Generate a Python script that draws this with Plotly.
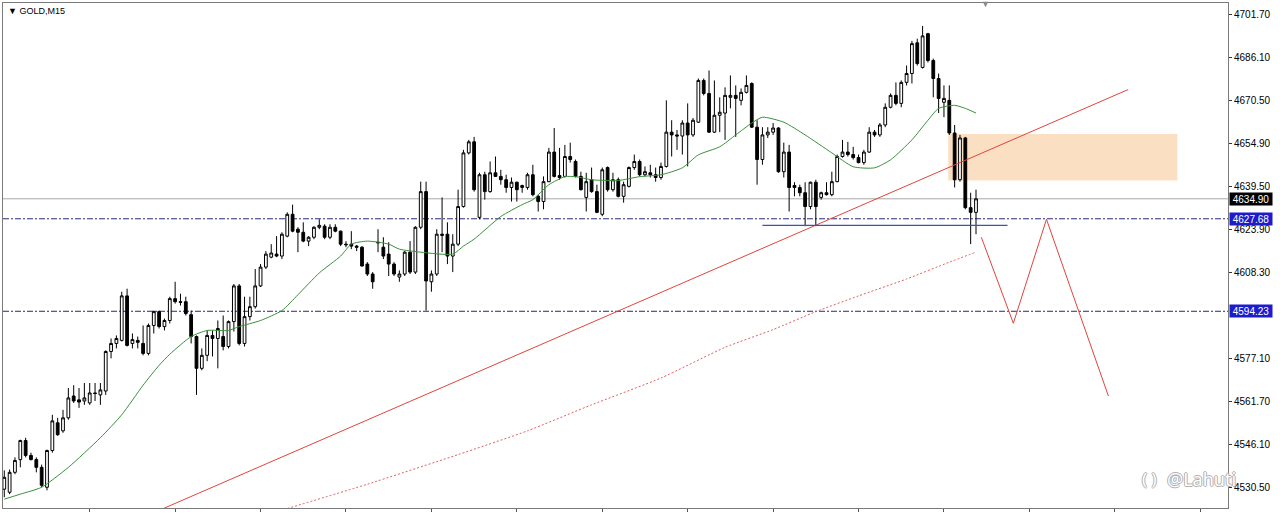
import plotly.graph_objects as go

# ---------------- data (GOLD, M15) ----------------
bar_index = list(range(183))

opens = [4529.9, 4528.8, 4536.0, 4540.6, 4547.5, 4542.1, 4540.6, 4537.8, 4530.6, 4543.9,
         4553.9, 4551.0, 4555.7, 4563.6, 4562.2, 4561.8, 4561.1, 4564.7, 4564.0, 4565.4,
         4579.7, 4582.6, 4583.7, 4599.8, 4582.6, 4583.7, 4582.6, 4579.0, 4589.1, 4594.1,
         4588.7, 4590.9, 4598.8, 4597.7, 4597.7, 4593.0, 4585.1, 4573.6, 4578.3, 4585.5,
         4584.4, 4585.1, 4581.5, 4590.5, 4603.4, 4582.6, 4592.3, 4595.9, 4603.4, 4610.2,
         4613.8, 4614.9, 4614.2, 4621.4, 4629.3, 4623.9, 4622.8, 4619.6, 4621.0, 4624.6,
         4625.0, 4621.0, 4624.6, 4623.2, 4618.5, 4618.5, 4617.8, 4617.4, 4611.3, 4607.7,
         4619.2, 4617.4, 4614.9, 4611.3, 4606.6, 4607.7, 4615.6, 4608.4, 4624.6, 4637.5,
         4604.9, 4607.7, 4622.1, 4622.1, 4614.2, 4618.5, 4632.1, 4651.5, 4655.5, 4628.2,
         4643.6, 4637.5, 4644.3, 4643.0, 4641.8, 4639.0, 4640.9, 4639.0, 4639.0, 4643.6,
         4635.8, 4633.9, 4641.1, 4651.8, 4643.3, 4643.0, 4650.2, 4648.4, 4643.0, 4635.4,
         4641.8, 4637.5, 4629.3, 4646.2, 4638.2, 4641.8, 4635.8, 4639.4, 4646.2, 4648.4,
         4643.6, 4644.3, 4643.6, 4642.6, 4646.6, 4659.0, 4658.0, 4657.6, 4662.3, 4658.0,
         4662.6, 4677.7, 4673.0, 4659.0, 4665.1, 4665.9, 4671.6, 4672.3, 4670.5, 4673.4,
         4676.6, 4660.8, 4649.1, 4658.0, 4659.0, 4660.5, 4644.7, 4651.8, 4639.7, 4639.0,
         4637.1, 4632.1, 4640.9, 4635.4, 4637.1, 4636.4, 4641.1, 4650.2, 4651.8, 4650.9,
         4649.8, 4648.0, 4651.8, 4659.0, 4658.0, 4661.6, 4668.0, 4672.3, 4669.4, 4677.0,
         4680.2, 4691.3, 4682.4, 4694.6, 4684.9, 4678.4, 4669.8, 4670.5, 4658.7, 4641.8,
         4656.9, 4631.7, 4630.0]

highs = [4536.7, 4537.0, 4541.4, 4547.8, 4548.5, 4543.1, 4541.4, 4538.8, 4544.2, 4556.8,
         4555.7, 4558.6, 4566.5, 4567.5, 4566.5, 4568.3, 4568.3, 4568.3, 4568.3, 4580.1,
         4584.4, 4585.5, 4601.3, 4602.4, 4586.2, 4585.1, 4589.1, 4589.8, 4594.5, 4594.5,
         4591.6, 4599.5, 4604.9, 4600.6, 4599.5, 4594.5, 4585.5, 4580.8, 4587.3, 4587.3,
         4590.9, 4592.7, 4590.9, 4604.1, 4604.1, 4599.5, 4599.5, 4609.5, 4611.3, 4616.0,
         4618.5, 4621.4, 4622.8, 4630.0, 4632.8, 4624.6, 4626.4, 4621.4, 4625.0, 4627.5,
         4625.7, 4625.7, 4625.7, 4623.4, 4619.6, 4623.2, 4618.2, 4617.8, 4612.0, 4608.4,
         4623.9, 4621.0, 4619.2, 4612.0, 4609.0, 4616.0, 4619.6, 4625.0, 4641.1, 4641.1,
         4609.0, 4623.9, 4635.4, 4626.4, 4622.1, 4638.2, 4652.6, 4656.2, 4657.3, 4644.3,
         4644.7, 4648.4, 4650.2, 4645.4, 4643.6, 4642.6, 4641.1, 4640.0, 4644.3, 4647.2,
         4636.4, 4643.0, 4653.3, 4660.5, 4653.3, 4654.4, 4655.2, 4649.1, 4644.7, 4644.3,
         4646.2, 4640.0, 4646.2, 4646.6, 4644.3, 4642.6, 4641.1, 4646.6, 4650.9, 4649.1,
         4646.6, 4647.2, 4646.2, 4648.0, 4670.5, 4663.3, 4659.8, 4663.3, 4669.4, 4664.1,
         4678.4, 4678.4, 4681.3, 4677.7, 4671.6, 4675.2, 4679.5, 4675.9, 4674.8, 4679.5,
         4677.0, 4663.3, 4660.8, 4660.8, 4662.3, 4660.8, 4655.2, 4654.4, 4640.9, 4640.0,
         4640.9, 4641.1, 4641.8, 4637.5, 4640.9, 4644.7, 4650.9, 4656.2, 4655.5, 4653.7,
         4650.9, 4652.6, 4660.8, 4659.8, 4662.3, 4669.4, 4673.0, 4677.0, 4677.7, 4683.1,
         4692.0, 4692.8, 4697.4, 4694.9, 4685.6, 4680.2, 4675.9, 4675.9, 4661.6, 4658.0,
         4657.3, 4637.1, 4638.2]

lows = [4527.0, 4528.1, 4535.3, 4537.8, 4541.4, 4540.3, 4536.0, 4530.6, 4529.5, 4543.1,
        4549.2, 4550.3, 4555.0, 4561.1, 4559.3, 4560.4, 4560.4, 4561.8, 4560.4, 4564.0,
        4577.2, 4580.8, 4583.3, 4581.5, 4580.8, 4580.8, 4578.3, 4578.3, 4586.2, 4588.0,
        4587.3, 4589.8, 4597.0, 4596.3, 4592.7, 4582.6, 4564.0, 4572.9, 4576.2, 4577.9,
        4573.6, 4580.1, 4580.8, 4586.9, 4581.9, 4581.5, 4590.9, 4595.2, 4603.0, 4609.5,
        4613.4, 4613.8, 4613.1, 4621.0, 4622.8, 4615.6, 4619.2, 4617.8, 4620.3, 4623.9,
        4620.3, 4620.3, 4622.8, 4617.8, 4617.4, 4616.7, 4616.0, 4610.4, 4607.0, 4602.4,
        4615.6, 4613.1, 4607.0, 4607.0, 4604.9, 4607.0, 4607.7, 4607.7, 4623.9, 4594.5,
        4601.3, 4607.0, 4615.6, 4611.3, 4608.4, 4617.8, 4631.7, 4650.9, 4637.5, 4627.5,
        4634.6, 4637.1, 4642.8, 4640.0, 4637.1, 4633.9, 4633.9, 4637.1, 4638.2, 4635.8,
        4630.3, 4631.1, 4640.9, 4642.6, 4641.8, 4642.6, 4648.0, 4642.6, 4637.9, 4630.3,
        4637.1, 4629.7, 4628.6, 4637.5, 4637.5, 4635.4, 4633.5, 4639.0, 4645.4, 4643.0,
        4643.0, 4642.6, 4641.1, 4641.8, 4646.2, 4650.2, 4652.6, 4650.9, 4646.6, 4657.3,
        4662.3, 4672.3, 4658.7, 4658.7, 4659.0, 4656.2, 4667.6, 4657.3, 4668.7, 4673.0,
        4660.5, 4640.0, 4647.2, 4656.9, 4658.0, 4644.3, 4642.6, 4630.3, 4635.8, 4635.8,
        4625.0, 4631.1, 4625.0, 4634.6, 4636.1, 4635.8, 4640.9, 4649.8, 4650.2, 4649.1,
        4647.7, 4647.2, 4651.5, 4657.3, 4657.3, 4660.8, 4667.6, 4668.7, 4668.0, 4675.9,
        4676.6, 4683.1, 4682.0, 4684.2, 4671.6, 4665.9, 4664.4, 4658.0, 4639.0, 4641.1,
        4631.1, 4618.5, 4622.1]

closes = [4534.2, 4536.0, 4540.3, 4547.5, 4542.1, 4540.6, 4537.8, 4531.3, 4543.9, 4554.6,
          4549.6, 4555.7, 4562.9, 4561.8, 4561.4, 4562.9, 4564.7, 4564.5, 4565.8, 4579.7,
          4582.6, 4584.4, 4599.8, 4581.9, 4584.0, 4583.0, 4579.0, 4589.1, 4594.1, 4588.7,
          4590.9, 4598.8, 4597.7, 4597.5, 4593.4, 4585.1, 4573.6, 4578.3, 4585.5, 4584.4,
          4588.0, 4581.5, 4590.5, 4603.4, 4582.6, 4592.3, 4595.9, 4603.4, 4610.2, 4614.9,
          4615.3, 4614.2, 4622.1, 4629.3, 4623.2, 4622.8, 4619.6, 4621.0, 4624.6, 4625.3,
          4621.0, 4624.6, 4623.2, 4618.5, 4618.3, 4617.8, 4617.4, 4610.6, 4607.7, 4604.9,
          4619.0, 4614.2, 4611.3, 4607.7, 4607.7, 4615.6, 4608.4, 4624.6, 4637.5, 4605.2,
          4607.7, 4622.1, 4621.7, 4614.2, 4618.5, 4632.1, 4651.5, 4655.5, 4638.2, 4643.6,
          4637.5, 4644.3, 4643.0, 4641.8, 4639.0, 4640.9, 4638.2, 4639.7, 4643.6, 4636.4,
          4633.9, 4641.1, 4651.8, 4643.0, 4642.6, 4650.2, 4649.1, 4643.0, 4638.2, 4641.1,
          4637.5, 4630.0, 4645.4, 4638.2, 4641.8, 4635.8, 4640.0, 4646.2, 4648.4, 4643.6,
          4644.7, 4643.6, 4642.6, 4646.6, 4659.0, 4658.0, 4657.6, 4662.3, 4658.0, 4663.3,
          4677.7, 4673.0, 4659.0, 4665.1, 4666.2, 4672.3, 4672.3, 4671.2, 4673.4, 4675.9,
          4660.8, 4649.1, 4658.0, 4659.0, 4660.5, 4644.7, 4651.8, 4639.0, 4639.0, 4637.1,
          4632.1, 4640.9, 4632.1, 4637.1, 4636.4, 4641.1, 4650.2, 4651.8, 4650.9, 4649.8,
          4648.0, 4651.8, 4659.0, 4658.0, 4661.6, 4668.0, 4672.3, 4669.4, 4677.0, 4680.2,
          4691.0, 4683.8, 4693.8, 4684.9, 4678.4, 4671.2, 4671.2, 4658.7, 4641.8, 4656.9,
          4631.7, 4630.0, 4634.9]

# fast moving average (green), sampled where read
ma_fast_idx = [0, 3, 7, 12, 18, 22, 26, 29, 31, 35, 38, 42, 44, 48, 52, 55, 59, 63, 65, 68,
               72, 74, 78, 84, 86, 88, 93, 97, 99, 102, 105, 107, 110, 113, 115, 119, 123, 127,
               130, 134, 137, 140, 142, 146, 150, 155, 159, 163, 166, 170, 173, 175, 178, 180, 182]
ma_fast_val = [4526.3, 4528.1, 4530.6, 4537.8, 4548.5, 4556.8, 4567.5, 4574.7, 4578.7, 4585.1,
               4587.3, 4587.3, 4588.7, 4590.9, 4594.5, 4600.2, 4608.1, 4614.2, 4618.5, 4619.6,
               4618.5, 4616.7, 4615.6, 4614.9, 4617.8, 4620.3, 4628.5, 4632.8, 4634.6, 4640.0,
               4642.9, 4642.9, 4641.8, 4641.5, 4641.5, 4642.9, 4643.6, 4646.1, 4650.8, 4653.7,
               4658.0, 4662.3, 4664.4, 4662.6, 4658.0, 4651.5, 4646.5, 4646.1, 4649.0, 4656.2,
               4663.3, 4667.6, 4668.7, 4667.6, 4665.9]

# slow moving average (red dotted)
ma_slow_idx = [53, 68, 85, 98, 110, 123, 135, 144, 152, 160, 169, 177, 182]
ma_slow_val = [4522.9, 4531.7, 4542.4, 4551.0, 4560.4, 4570.1, 4581.2, 4587.6, 4594.1,
               4599.8, 4605.9, 4612.0, 4615.6]

# drawn objects
trend_idx = [29.3, 210.5]
trend_price = [4522.5, 4674.4]
zigzag_idx = [183.0, 189.0, 195.2, 206.8]
zigzag_price = [4621.0, 4589.9, 4627.5, 4563.6]
zone_idx = [176.8, 219.7]
zone_price = [4641.5, 4658.3]
support_idx = [142.0, 187.9]
support_price = 4625.3
bid_price = 4634.90
level_prices = [4627.68, 4594.23]

y_ticks = [4701.70, 4686.10, 4670.50, 4654.90, 4639.50, 4623.90, 4608.30,
           4577.10, 4561.70, 4546.10, 4530.50]
x_ticks = list(range(16, 230, 16))

X_RANGE = [-0.24, 229.2]
Y_RANGE = [4523.1, 4705.7]

FONT = "Liberation Sans"

fig = go.Figure()

fig.add_trace(go.Candlestick(
    x=bar_index, open=opens, high=highs, low=lows, close=closes,
    increasing=dict(line=dict(color="black", width=1), fillcolor="white"),
    decreasing=dict(line=dict(color="black", width=1), fillcolor="black"),
    whiskerwidth=0, hoverinfo="skip", showlegend=False,
))

fig.add_trace(go.Scatter(x=ma_fast_idx, y=ma_fast_val, mode="lines",
                         line=dict(color="#3a8f3a", width=1, shape="spline", smoothing=0.6),
                         hoverinfo="skip", showlegend=False))
fig.add_trace(go.Scatter(x=ma_slow_idx, y=ma_slow_val, mode="lines",
                         line=dict(color="#e06060", width=1, dash="2px,2px", shape="spline", smoothing=0.5),
                         hoverinfo="skip", showlegend=False))
fig.add_trace(go.Scatter(x=trend_idx, y=trend_price, mode="lines",
                         line=dict(color="#e0453c", width=1),
                         hoverinfo="skip", showlegend=False))
fig.add_trace(go.Scatter(x=zigzag_idx, y=zigzag_price, mode="lines",
                         line=dict(color="#e0453c", width=1),
                         hoverinfo="skip", showlegend=False))

shapes = [
    dict(type="rect", xref="x", yref="y", x0=zone_idx[0], x1=zone_idx[1],
         y0=zone_price[0], y1=zone_price[1], fillcolor="#fbdfc3", line=dict(width=0), layer="below"),
    dict(type="line", xref="paper", yref="y", x0=0, x1=1, y0=bid_price, y1=bid_price,
         line=dict(color="#a8a8a8", width=1), layer="below"),
    dict(type="line", xref="x", yref="y", x0=support_idx[0], x1=support_idx[1],
         y0=support_price, y1=support_price, line=dict(color="#3a55b0", width=1.3), layer="above"),
]
for lp in level_prices:
    shapes.append(dict(type="line", xref="paper", yref="y", x0=0, x1=1, y0=lp, y1=lp,
                       line=dict(color="#2a2a78", width=1, dash="6px,2px,2px,2px"), layer="below"))

annotations = [
    dict(text="▼ GOLD,M15", xref="paper", yref="paper", x=0, y=1, xanchor="left", yanchor="top",
         xshift=3, yshift=-1, showarrow=False, font=dict(family=FONT, size=9, color="black")),
    dict(text="▼", xref="paper", yref="paper", x=0.8018, y=0.998, xanchor="center", yanchor="middle",
         showarrow=False, font=dict(family=FONT, size=9, color="#8a8a8a")),
    dict(text="%.2f" % bid_price, xref="paper", yref="y", x=1, y=bid_price, xanchor="left",
         yanchor="middle", xshift=1, showarrow=False, bgcolor="black", width=42, height=12,
         borderpad=0, font=dict(family=FONT, size=10, color="white")),
]
for lp in level_prices:
    annotations.append(dict(text="%.2f" % lp, xref="paper", yref="y", x=1, y=lp, xanchor="left",
                            yanchor="middle", xshift=1, showarrow=False, bgcolor="#1c1ccc",
                            width=42, height=12, borderpad=0,
                            font=dict(family=FONT, size=10, color="white")))
# watermark (hollow grey lettering)
hollow = "1px 0 0 #b0b0b0, -1px 0 0 #b0b0b0, 0 1px 0 #b0b0b0, 0 -1px 0 #b0b0b0"
annotations.append(dict(text="@Lahuti", xref="paper", yref="paper", x=0.9486, y=0.058,
                        xanchor="left", yanchor="middle", showarrow=False,
                        font=dict(family="Noto Sans", size=18, color="white", shadow=hollow)))
annotations.append(dict(text="( )", xref="paper", yref="paper", x=0.944, y=0.058,
                        xanchor="right", yanchor="middle", showarrow=False,
                        font=dict(family="Noto Sans", size=17, color="white", shadow=hollow)))

fig.update_layout(
    width=1280, height=513,
    margin=dict(l=2, r=52, t=2, b=2),
    paper_bgcolor="white", plot_bgcolor="white",
    showlegend=False, boxgap=0.26,
    shapes=shapes, annotations=annotations,
    xaxis=dict(range=X_RANGE, showgrid=False, zeroline=False, showline=True, mirror=True,
               linecolor="#7a7a7a", linewidth=1, ticks="outside", tickvals=x_ticks, ticklen=3,
               tickcolor="#555", showticklabels=False, rangeslider=dict(visible=False),
               fixedrange=True),
    yaxis=dict(range=Y_RANGE, side="right", showgrid=False, zeroline=False, showline=True,
               mirror=True, linecolor="#7a7a7a", linewidth=1, ticks="outside", ticklen=3,
               tickcolor="#333", tickvals=y_ticks, ticktext=["%.2f" % v for v in y_ticks],
               tickfont=dict(family=FONT, size=10, color="black"), fixedrange=True),
)

fig.write_html("out.html", config={"displayModeBar": False},
               post_script="document.body.style.margin='0px';document.body.style.overflow='hidden';")
